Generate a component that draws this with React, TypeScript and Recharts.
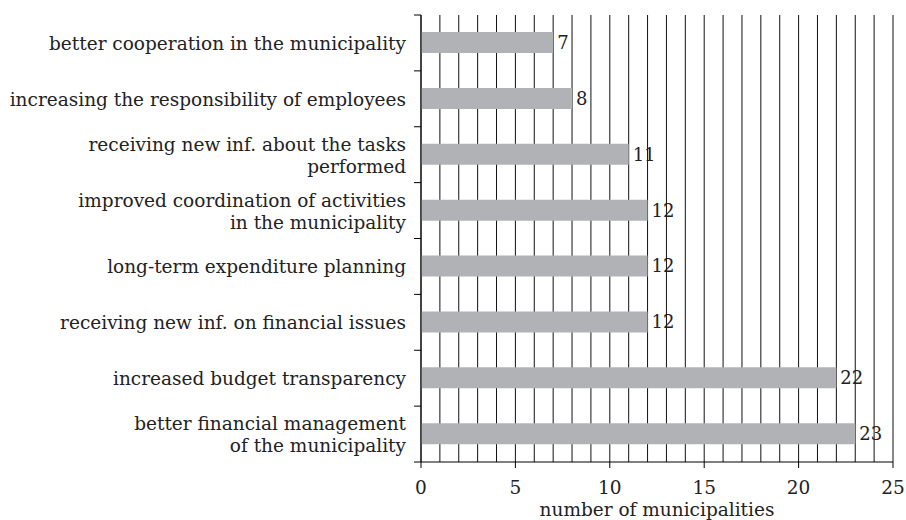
import { BarChart, Bar, XAxis, YAxis, CartesianGrid, LabelList } from "recharts";

const categories = [
  "better cooperation in the municipality",
  "increasing the responsibility of employees",
  "receiving new inf. about the tasks\nperformed",
  "improved coordination of activities\nin the municipality",
  "long-term expenditure planning",
  "receiving new inf. on financial issues",
  "increased budget transparency",
  "better financial management\nof the municipality",
];
const counts = [7, 8, 11, 12, 12, 12, 22, 23];
const xTicks = [0, 5, 10, 15, 20, 25];
const xMax = 25;

const data = categories.map((name, i) => ({ name, count: counts[i] }));

const W = 906;
const H = 520;
const margin = { top: 15, right: 13, bottom: 0, left: 0 };
const Y_AXIS_W = 421;
const X_AXIS_H = 58;
const PLOT_H = H - margin.top - margin.bottom - X_AXIS_H;
const BAND = PLOT_H / categories.length;
const FONT = "'DejaVu Serif', serif";
const TEXT = "#222";
const gridValues = Array.from({ length: xMax + 1 }, (_, i) => i);

const CategoryTick = (props: any) => {
  const { y, payload, index } = props;
  const lines = String(payload.value).split("\n");
  const lh = 22;
  const first = -((lines.length - 1) * lh) / 2 + 7;
  const tx = Y_AXIS_W - 15;
  return (
    <g>
      <line x1={Y_AXIS_W - 7} x2={Y_AXIS_W} y1={y - BAND / 2} y2={y - BAND / 2} stroke="#000" />
      {index === categories.length - 1 && (
        <line x1={Y_AXIS_W - 7} x2={Y_AXIS_W} y1={y + BAND / 2} y2={y + BAND / 2} stroke="#000" />
      )}
      <text x={tx} y={y} textAnchor="end" fontFamily={FONT} fontSize={18.5} fill={TEXT}>
        {lines.map((l, i) => (
          <tspan key={i} x={tx} dy={i === 0 ? first : lh}>
            {l}
          </tspan>
        ))}
      </text>
    </g>
  );
};

export default function App() {
  return (
    <div style={{ position: "absolute", left: 0, top: 0, width: W, height: H, background: "#fff" }}>
      <BarChart width={W} height={H} data={data} layout="vertical" margin={margin}>
        <CartesianGrid
          horizontal={false}
          stroke="#111"
          verticalCoordinatesGenerator={({ offset }: any) =>
            gridValues.map((v) => offset.left + (v / xMax) * offset.width)
          }
        />
        <XAxis
          type="number"
          domain={[0, xMax]}
          ticks={xTicks}
          height={X_AXIS_H}
          tickSize={6}
          tickMargin={13}
          tickLine={{ stroke: "#000" }}
          axisLine={{ stroke: "#000" }}
          tick={{ fill: TEXT, fontFamily: FONT, fontSize: 18.5 }}
          label={{
            value: "number of municipalities",
            position: "insideBottom",
            offset: 4,
            fill: TEXT,
            fontFamily: FONT,
            fontSize: 18.5,
          }}
        />
        <YAxis
          type="category"
          dataKey="name"
          width={Y_AXIS_W}
          interval={0}
          tickLine={false}
          axisLine={{ stroke: "#000" }}
          tick={<CategoryTick />}
        />
        <Bar dataKey="count" fill="#b1b2b5" barSize={21} isAnimationActive={false}>
          <LabelList
            dataKey="count"
            position="right"
            offset={4}
            fill={TEXT}
            fontFamily={FONT}
            fontSize={18}
          />
        </Bar>
      </BarChart>
    </div>
  );
}
